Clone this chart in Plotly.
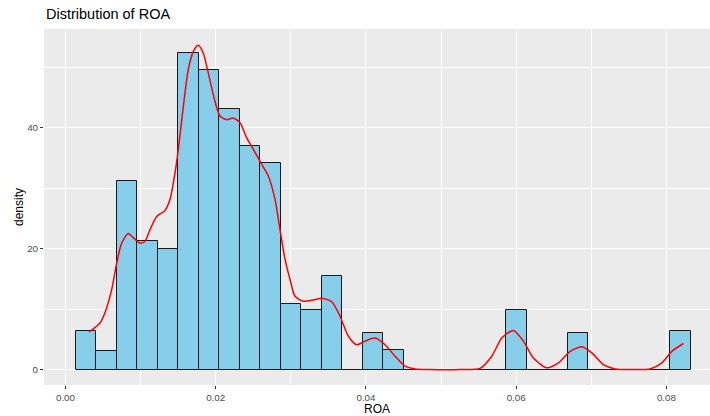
import plotly.graph_objects as go

# Histogram bins (centres) and densities
bin_centers = [0.00272, 0.00545, 0.00818, 0.01091, 0.01364, 0.01637, 0.01910, 0.02183,
               0.02456, 0.02729, 0.03002, 0.03275, 0.03548, 0.03821, 0.04094, 0.04367,
               0.04640, 0.04913, 0.05186, 0.05459, 0.05732, 0.06005, 0.06278, 0.06551,
               0.06824, 0.07097, 0.07370, 0.07643, 0.07916, 0.08189]
bin_density = [6.4, 3.1, 31.2, 21.2, 19.9, 52.3, 49.5, 43.0,
               36.9, 34.2, 10.9, 9.8, 15.5, 0, 6.1, 3.2,
               0, 0, 0, 0, 0, 9.8, 0, 0,
               6.1, 0, 0, 0, 0, 6.3]
bin_width = 0.00273

# Kernel density curve
kde_x = [0.00313, 0.00459, 0.00526, 0.00615, 0.00682, 0.00748, 0.00836, 0.00903,
         0.00992, 0.01059, 0.01125, 0.01214, 0.01325, 0.01391, 0.01458, 0.01502,
         0.01569, 0.01635, 0.01702, 0.01768, 0.01835, 0.01901, 0.01991, 0.02057,
         0.02146, 0.02234, 0.02324, 0.02413, 0.02501, 0.02613, 0.02700, 0.02790,
         0.02856, 0.02923, 0.02989, 0.03056, 0.03166, 0.03300, 0.03411, 0.03545,
         0.03655, 0.03766, 0.03877, 0.03988, 0.04121, 0.04254, 0.04388, 0.04521,
         0.04654, 0.04853, 0.05253, 0.05519, 0.05675, 0.05808, 0.05963, 0.06096,
         0.06229, 0.06407, 0.06562, 0.06718, 0.06873, 0.07007, 0.07161, 0.07317,
         0.07543, 0.07783, 0.07939, 0.08072, 0.08226]
kde_y = [6.2, 7.7, 9.4, 13.2, 17.6, 20.9, 22.5, 21.8,
         20.9, 21.2, 23.1, 25.3, 26.3, 28.1, 32.5, 36.4,
         43.5, 49.6, 52.6, 53.6, 52.3, 49.0, 44.3, 41.9,
         41.3, 41.6, 40.8, 38.3, 36.4, 33.9, 32.0, 28.1,
         23.1, 18.2, 14.9, 12.1, 11.3, 11.5, 11.8, 11.2,
         8.8, 5.5, 4.1, 4.7, 5.2, 4.1, 2.2, 0.55,
         0.1, 0.0, 0.0, 0.2, 2.2, 5.2, 6.45, 4.7,
         1.9, 0.3, 1.1, 3.0, 3.75, 2.75, 0.8, 0.1,
         0.0, 0.1, 1.1, 3.0, 4.3]

x_ticks = [0.00, 0.02, 0.04, 0.06, 0.08]
x_tick_labels = ["0.00", "0.02", "0.04", "0.06", "0.08"]
y_ticks = [0, 20, 40]

fig = go.Figure()
fig.add_trace(go.Bar(
    x=bin_centers, y=bin_density, width=[bin_width] * len(bin_centers),
    marker=dict(color="#87CEEB", line=dict(color="#1a1a1a", width=1)),
    hoverinfo="skip", showlegend=False,
))
fig.add_trace(go.Scatter(
    x=kde_x, y=kde_y, mode="lines",
    line=dict(color="#FF0000", width=1.5, shape="spline", smoothing=0.7),
    hoverinfo="skip", showlegend=False,
))

font_fam = "Liberation Sans, Arial, sans-serif"
fig.update_layout(
    width=710, height=416,
    margin=dict(l=44, r=0, t=29, b=31, autoexpand=False),
    paper_bgcolor="white", plot_bgcolor="#EBEBEB",
    bargap=0, barmode="overlay",
    font=dict(family=font_fam, color="#4D4D4D", size=9.5),
    xaxis=dict(
        range=[-0.00286, 0.0858], tickvals=x_ticks, ticktext=x_tick_labels,
        showgrid=True, gridcolor="white", gridwidth=1.1, zeroline=False,
        ticks="outside", ticklen=3, tickwidth=1, tickcolor="#333333",
        tickfont=dict(size=9.8, color="#4D4D4D"), showline=False,
        minor=dict(tickvals=[0.01, 0.03, 0.05, 0.07], showgrid=True,
                   gridcolor="white", gridwidth=0.5),
        automargin=False,
    ),
    yaxis=dict(
        range=[-2.56, 56.3], tickvals=y_ticks,
        showgrid=True, gridcolor="white", gridwidth=1.1, zeroline=False,
        ticks="outside", ticklen=3, tickwidth=1, tickcolor="#333333",
        tickfont=dict(size=9.8, color="#4D4D4D"), showline=False,
        minor=dict(tickvals=[10, 30, 50], showgrid=True,
                   gridcolor="white", gridwidth=0.5),
        automargin=False,
    ),
    annotations=[
        dict(text="Distribution of ROA", x=0, y=1, xref="paper", yref="paper",
             xanchor="left", yanchor="bottom", yshift=5, showarrow=False,
             font=dict(size=14.5, color="black", family=font_fam)),
        dict(text="ROA", x=0.5, y=0, xref="paper", yref="paper",
             xanchor="center", yanchor="top", yshift=-15, showarrow=False,
             font=dict(size=12, color="black", family=font_fam)),
        dict(text="density", x=0, y=0.5, xref="paper", yref="paper",
             xanchor="center", yanchor="middle", xshift=-25, textangle=-90,
             showarrow=False, font=dict(size=12, color="black", family=font_fam)),
    ],
)

fig.write_html("out.html", config={"displayModeBar": False},
               post_script="document.body.style.margin='0';document.body.style.padding='0';")
